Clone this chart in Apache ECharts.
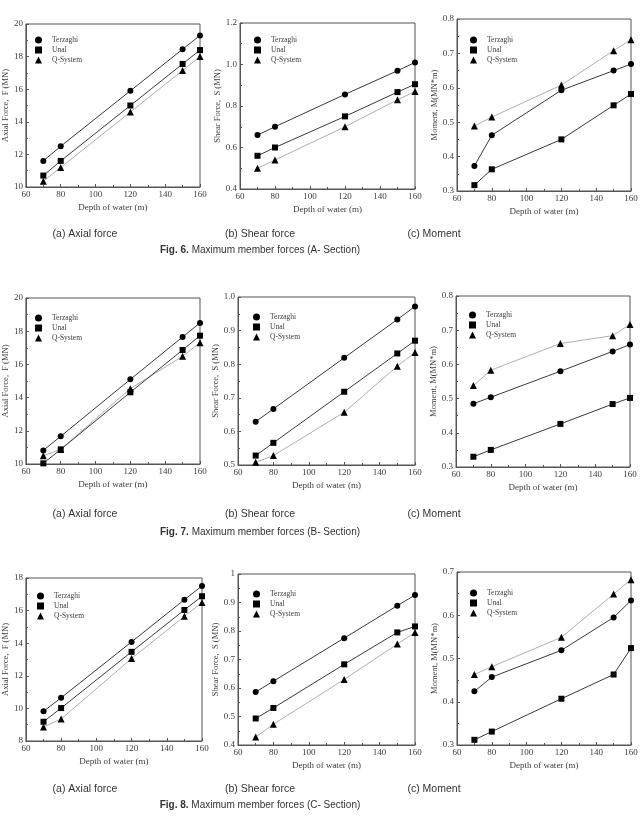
<!DOCTYPE html>
<html>
<head>
<meta charset="utf-8">
<script src="https://cdn.jsdelivr.net/npm/echarts@6/dist/echarts.min.js"></script>
<style>
  html, body { margin: 0; padding: 0; background: #fff; }
  #main { width: 643px; height: 821px; }
</style>
</head>
<body>
<div id="main"></div>
<script>
var depth = [70, 80, 120, 150, 160];
var methods = ['Terzaghi', 'Unal', 'Q-System'];

// Fig. 6 (A- Section)
var axialA_T = [11.6, 12.5, 15.9, 18.45, 19.3];
var axialA_U = [10.7, 11.6, 15.0, 17.55, 18.4];
var axialA_Q = [10.35, 11.2, 14.6, 17.15, 18.0];
var shearA_T = [0.66, 0.70, 0.856, 0.97, 1.01];
var shearA_U = [0.56, 0.60, 0.75, 0.867, 0.905];
var shearA_Q = [0.50, 0.54, 0.70, 0.83, 0.87];
var momentA_T = [0.373, 0.462, 0.593, 0.65, 0.669];
var momentA_U = [0.317, 0.363, 0.45, 0.549, 0.582];
var momentA_Q = [0.489, 0.515, 0.608, 0.708, 0.74];

// Fig. 7 (B- Section)
var axialB_T = [10.82, 11.67, 15.1, 17.65, 18.5];
var axialB_U = [10.04, 10.88, 14.32, 16.87, 17.73];
var axialB_Q = [10.5, 10.88, 14.54, 16.49, 17.31];
var shearB_T = [0.629, 0.667, 0.819, 0.933, 0.972];
var shearB_U = [0.528, 0.566, 0.718, 0.832, 0.87];
var shearB_Q = [0.508, 0.528, 0.657, 0.794, 0.835];
var momentB_T = [0.485, 0.504, 0.58, 0.638, 0.658];
var momentB_U = [0.33, 0.35, 0.426, 0.484, 0.502];
var momentB_Q = [0.538, 0.583, 0.661, 0.684, 0.717];

// Fig. 8 (C- Section)
var axialC_T = [9.82, 10.65, 14.08, 16.67, 17.51];
var axialC_U = [9.18, 10.02, 13.47, 16.04, 16.88];
var axialC_Q = [8.86, 9.35, 13.06, 15.65, 16.49];
var shearC_T = [0.586, 0.624, 0.775, 0.889, 0.926];
var shearC_U = [0.493, 0.53, 0.683, 0.795, 0.816];
var shearC_Q = [0.428, 0.473, 0.63, 0.754, 0.795];
var momentC_T = [0.424, 0.457, 0.519, 0.595, 0.634];
var momentC_U = [0.312, 0.331, 0.407, 0.463, 0.524];
var momentC_Q = [0.463, 0.481, 0.549, 0.649, 0.682];

var xTicks = { min: 60, max: 160, interval: 20 };
var yNames = ['Axial Force,  F (MN)', 'Shear Force,  S (MN)', 'Moment, M(MN*m)'];
var subCaptions = ['(a) Axial force', '(b) Shear force', '(c) Moment'];
var figCaptions = [
  ['Fig. 6.', ' Maximum member forces (A- Section)'],
  ['Fig. 7.', ' Maximum member forces (B- Section)'],
  ['Fig. 8.', ' Maximum member forces (C- Section)']
];

var panels = [
  { data: [axialA_T, axialA_U, axialA_Q], yName: 0, min: 10, max: 20, interval: 2, dec: 0,
    grid: [23, 24, 177, 163], legend: [30, 31] },
  { data: [shearA_T, shearA_U, shearA_Q], yName: 1, min: 0.4, max: 1.2, interval: 0.2, dec: 1,
    grid: [240, 23, 175, 166], legend: [249, 31] },
  { data: [momentA_T, momentA_U, momentA_Q], yName: 2, min: 0.3, max: 0.8, interval: 0.1, dec: 1,
    grid: [457, 19, 174, 172], legend: [465, 31] },
  { data: [axialB_T, axialB_U, axialB_Q], yName: 0, min: 10, max: 20, interval: 2, dec: 0,
    grid: [23, 298, 177, 166], legend: [30, 309] },
  { data: [shearB_T, shearB_U, shearB_Q], yName: 1, min: 0.5, max: 1.0, interval: 0.1, dec: 1,
    grid: [238, 297, 177, 168], legend: [248, 308] },
  { data: [momentB_T, momentB_U, momentB_Q], yName: 2, min: 0.3, max: 0.8, interval: 0.1, dec: 1,
    grid: [456, 296, 174, 171], legend: [464, 306] },
  { data: [axialC_T, axialC_U, axialC_Q], yName: 0, min: 8, max: 18, interval: 2, dec: 0,
    grid: [23, 578, 179, 163], legend: [32, 587] },
  { data: [shearC_T, shearC_U, shearC_Q], yName: 1, min: 0.4, max: 1.0, interval: 0.1, dec: -1,
    grid: [238, 574, 177, 171], legend: [248, 585] },
  { data: [momentC_T, momentC_U, momentC_Q], yName: 2, min: 0.3, max: 0.7, interval: 0.1, dec: 1,
    grid: [457, 572, 174, 173], legend: [465, 584] }
];

var symbols = ['circle', 'rect', 'triangle'];
var lineColors = ['#3a3a3a', '#3a3a3a', '#b0b0b0'];
var serif = 'Liberation Serif';
var txt = '#3c3c3c';

var grids = [], xAxes = [], yAxes = [], series = [], legends = [];

panels.forEach(function (p, i) {
  grids.push({
    left: p.grid[0], top: p.grid[1], width: p.grid[2], height: p.grid[3],
    show: true, borderColor: '#555', borderWidth: 1, backgroundColor: 'transparent'
  });
  xAxes.push({
    type: 'value', gridIndex: i, min: xTicks.min, max: xTicks.max, interval: xTicks.interval,
    name: 'Depth of water (m)', nameLocation: 'middle', nameGap: 16,
    nameTextStyle: { fontFamily: serif, fontSize: 9, color: txt },
    axisLine: { lineStyle: { color: '#555', width: 1 } },
    axisTick: { inside: true, length: 3, lineStyle: { color: '#555' } },
    minorTick: { show: true, splitNumber: 2, length: 2, lineStyle: { color: '#555' } },
    axisLabel: { fontFamily: serif, fontSize: 9, color: txt, margin: 3 },
    splitLine: { show: false }
  });
  yAxes.push({
    type: 'value', gridIndex: i, min: p.min, max: p.max, interval: p.interval,
    name: yNames[p.yName], nameLocation: 'middle', nameGap: p.dec === 0 ? 14 : 18,
    nameTextStyle: { fontFamily: serif, fontSize: 8.5, color: txt },
    axisLine: { show: true, lineStyle: { color: '#555', width: 1 } },
    axisTick: { inside: true, length: 3, lineStyle: { color: '#555' } },
    minorTick: { show: true, splitNumber: 2, length: 2, lineStyle: { color: '#555' } },
    axisLabel: {
      fontFamily: serif, fontSize: 9, color: txt, margin: 3,
      formatter: function (v) { return p.dec < 0 ? String(+v.toFixed(1)) : v.toFixed(p.dec); }
    },
    splitLine: { show: false }
  });
  p.data.forEach(function (vals, k) {
    series.push({
      name: methods[k], type: 'line', xAxisIndex: i, yAxisIndex: i,
      data: depth.map(function (d, j) { return [d, vals[j]]; }),
      symbol: symbols[k], symbolSize: k === 2 ? 7 : 6,
      itemStyle: { color: '#000' },
      lineStyle: { color: lineColors[k], width: 1 },
      emphasis: { disabled: true },
      z: 3 - k
    });
  });
  legends.push({
    left: p.legend[0], top: p.legend[1], orient: 'vertical', itemGap: 2,
    itemWidth: 7, itemHeight: 7, selectedMode: false,
    data: methods.map(function (m, k) {
      return { name: m, icon: symbols[k], itemStyle: { color: '#000' } };
    }),
    textStyle: { fontFamily: serif, fontSize: 7.5, color: txt, padding: [0, 0, 0, 5] }
  });
});

var captionX = [85, 260, 434];
var captionY = [234, 514, 789];
var figY = [250, 532, 805];
var graphics = [];
captionY.forEach(function (y, r) {
  subCaptions.forEach(function (c, k) {
    graphics.push({
      type: 'text', x: captionX[k], y: y,
      style: { text: c, fill: '#333', font: '10.5px "Liberation Sans"', textAlign: 'center', textVerticalAlign: 'middle' }
    });
  });
  graphics.push({
    type: 'text', x: 260, y: figY[r],
    style: {
      text: '{b|' + figCaptions[r][0] + '}{n|' + figCaptions[r][1] + '}',
      textAlign: 'center', textVerticalAlign: 'middle',
      rich: {
        b: { fontFamily: 'Liberation Sans', fontSize: 10, fontWeight: 'bold', fill: '#333' },
        n: { fontFamily: 'Liberation Sans', fontSize: 10, fill: '#333' }
      }
    }
  });
});

var myChart = echarts.init(document.getElementById('main'));
var option = {
  backgroundColor: '#fff',
  animation: false,
  grid: grids,
  xAxis: xAxes,
  yAxis: yAxes,
  legend: legends,
  series: series,
  graphic: graphics
};
myChart.setOption(option);
</script>
</body>
</html>
